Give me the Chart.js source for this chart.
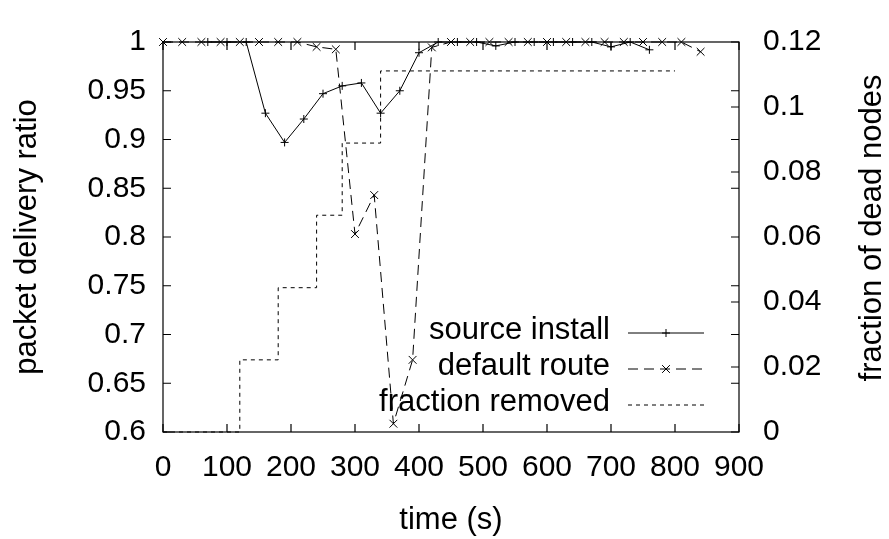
<!DOCTYPE html>
<html>
<head>
<meta charset="utf-8">
<script src="https://cdn.jsdelivr.net/npm/chart.js@4"></script>
<style>
  body { margin: 0; background: #fff; }
  #wrap { width: 889px; height: 539px; }
</style>
</head>
<body>
<div id="wrap"><canvas id="myChart" width="889" height="539"></canvas></div>
<script>
// tick labels
const xTicks = [0, 100, 200, 300, 400, 500, 600, 700, 800, 900]
const yTicks = [0.6, 0.65, 0.7, 0.75, 0.8, 0.85, 0.9, 0.95, 1]
const y2Ticks = [0, 0.02, 0.04, 0.06, 0.08, 0.1, 0.12]

// source install
const sourceTimes = [70, 100, 130, 160, 190, 220, 250, 280, 310, 340, 370, 400, 430, 460, 490, 520, 550, 580, 610, 640, 670, 700, 730, 760]
const sourceValues = [1, 1, 1, 0.927, 0.897, 0.921, 0.947, 0.955, 0.958, 0.927, 0.95, 0.989, 1, 1, 1, 0.996, 1, 1, 1, 1, 1, 0.995, 1, 0.992]

// default route
const defaultTimes = [0, 30, 60, 90, 120, 150, 180, 210, 240, 270, 300, 330, 360, 390, 420, 450, 480, 510, 540, 570, 600, 630, 660, 690, 720, 750, 780, 810, 840]
const defaultValues = [1, 1, 1, 1, 1, 1, 1, 1, 0.995, 0.9925, 0.803, 0.843, 0.6085, 0.674, 0.9945, 1, 1, 1, 1, 1, 1, 1, 1, 1, 1, 1, 1, 1, 0.99]

// fraction removed (right axis), value holds from each time on
const removedTimes = [0, 120, 180, 240, 280, 340, 800]
const removedValues = [0, 0.0222, 0.0444, 0.0667, 0.0889, 0.1111, 0.1111]

const xTitle = 'time (s)'
const yTitle = 'packet delivery ratio'
const y2Title = 'fraction of dead nodes'

const FAMILY = "'Liberation Sans', Arial, Helvetica, sans-serif"
const TICK_SIZE = 30
const TEXT_SIZE = 31

const pts = (xs, ys) => xs.map((x, i) => ({ x: x, y: ys[i] }))
const fmt = v => String(+Number(v).toFixed(2))

Chart.defaults.font.family = FAMILY
Chart.defaults.font.size = TICK_SIZE
Chart.defaults.color = '#000'

function drawMarker(ctx, style, r, x, y) {
  ctx.beginPath()
  if (style === 'cross') {
    ctx.moveTo(x - r, y); ctx.lineTo(x + r, y)
    ctx.moveTo(x, y - r); ctx.lineTo(x, y + r)
  } else if (style === 'crossRot') {
    const d = r * Math.SQRT1_2
    ctx.moveTo(x - d, y - d); ctx.lineTo(x + d, y + d)
    ctx.moveTo(x - d, y + d); ctx.lineTo(x + d, y - d)
  }
  ctx.stroke()
}

// gnuplot-like frame, inward ticks, right title and legend
const gnuFrame = {
  id: 'gnuFrame',
  afterDraw(chart) {
    const { ctx, chartArea: a, scales } = chart
    const len = 8
    ctx.save()
    ctx.strokeStyle = '#000'
    ctx.lineWidth = 1.2
    ctx.setLineDash([])
    ctx.strokeRect(a.left, a.top, a.right - a.left, a.bottom - a.top)

    ctx.beginPath()
    scales.x.ticks.forEach(t => {
      const px = scales.x.getPixelForValue(t.value)
      ctx.moveTo(px, a.bottom); ctx.lineTo(px, a.bottom - len)
      ctx.moveTo(px, a.top); ctx.lineTo(px, a.top + len)
    })
    scales.y.ticks.forEach(t => {
      const py = scales.y.getPixelForValue(t.value)
      ctx.moveTo(a.left, py); ctx.lineTo(a.left + len, py)
      ctx.moveTo(a.right, py); ctx.lineTo(a.right - len, py)
    })
    scales.y2.ticks.forEach(t => {
      const py = scales.y2.getPixelForValue(t.value)
      ctx.moveTo(a.right, py); ctx.lineTo(a.right - len, py)
    })
    ctx.stroke()

    // right axis title, reads bottom to top like the left one
    ctx.save()
    ctx.font = TEXT_SIZE + 'px ' + FAMILY
    ctx.fillStyle = '#000'
    ctx.textAlign = 'center'
    ctx.textBaseline = 'middle'
    ctx.translate(872, 228)
    ctx.rotate(-Math.PI / 2)
    ctx.fillText(y2Title, 0, 0)
    ctx.restore()

    // legend
    const rows = [333, 369, 405]
    ctx.font = TEXT_SIZE + 'px ' + FAMILY
    ctx.textAlign = 'right'
    ctx.textBaseline = 'middle'
    chart.data.datasets.forEach((ds, i) => {
      const y = rows[i]
      ctx.fillStyle = '#000'
      ctx.fillText(ds.label, 610, y - 3)
      ctx.lineWidth = ds.borderWidth
      ctx.setLineDash(ds.borderDash || [])
      ctx.beginPath()
      ctx.moveTo(628, y); ctx.lineTo(704, y)
      ctx.stroke()
      ctx.setLineDash([])
      if (ds.pointRadius > 0) drawMarker(ctx, ds.pointStyle, ds.pointRadius, 666, y)
    })
    ctx.restore()
  }
}

const ctx = document.getElementById('myChart')
new Chart(ctx, {
  type: 'line',
  data: {
    datasets: [{
      label: 'source install',
      data: pts(sourceTimes, sourceValues),
      borderColor: '#000',
      borderWidth: 1,
      pointStyle: 'cross',
      pointRadius: 4,
      pointBorderColor: '#000',
      pointBorderWidth: 1,
      tension: 0,
      clip: false,
      yAxisID: 'y'
    }, {
      label: 'default route',
      data: pts(defaultTimes, defaultValues),
      borderColor: '#000',
      borderWidth: 1,
      borderDash: [10, 6],
      pointStyle: 'crossRot',
      pointRadius: 5.5,
      pointBorderColor: '#000',
      pointBorderWidth: 1,
      tension: 0,
      clip: false,
      yAxisID: 'y'
    }, {
      label: 'fraction removed',
      data: pts(removedTimes, removedValues),
      borderColor: '#000',
      borderWidth: 1,
      borderDash: [4, 4],
      pointRadius: 0,
      stepped: 'before',
      clip: false,
      yAxisID: 'y2'
    }]
  },
  options: {
    responsive: false,
    animation: false,
    layout: { padding: { top: 20, left: 0, right: 0, bottom: 0 } },
    plugins: {
      legend: { display: false },
      tooltip: { enabled: false }
    },
    scales: {
      x: {
        type: 'linear',
        min: 0,
        max: 900,
        afterBuildTicks: s => { s.ticks = xTicks.map(v => ({ value: v })) },
        afterFit: s => { s.height = 107 },
        grid: { display: false, drawTicks: false },
        border: { display: false },
        ticks: { padding: 18, autoSkip: false, maxRotation: 0, callback: fmt },
        title: { display: true, text: xTitle, font: { size: TEXT_SIZE }, padding: { top: 0, bottom: 0 } }
      },
      y: {
        position: 'left',
        min: 0.6,
        max: 1,
        afterBuildTicks: s => { s.ticks = yTicks.map(v => ({ value: v })) },
        afterFit: s => { s.width = 163 },
        grid: { display: false, drawTicks: false },
        border: { display: false },
        ticks: { padding: 17, autoSkip: false, callback: fmt },
        title: { display: true, text: yTitle, font: { size: TEXT_SIZE }, padding: { top: 9, bottom: 0 } }
      },
      y2: {
        position: 'right',
        min: 0,
        max: 0.12,
        afterBuildTicks: s => { s.ticks = y2Ticks.map(v => ({ value: v })) },
        afterFit: s => { s.width = 150 },
        grid: { display: false, drawTicks: false },
        border: { display: false },
        ticks: { padding: 24, autoSkip: false, callback: fmt }
      }
    }
  },
  plugins: [gnuFrame]
})
</script>
</body>
</html>
